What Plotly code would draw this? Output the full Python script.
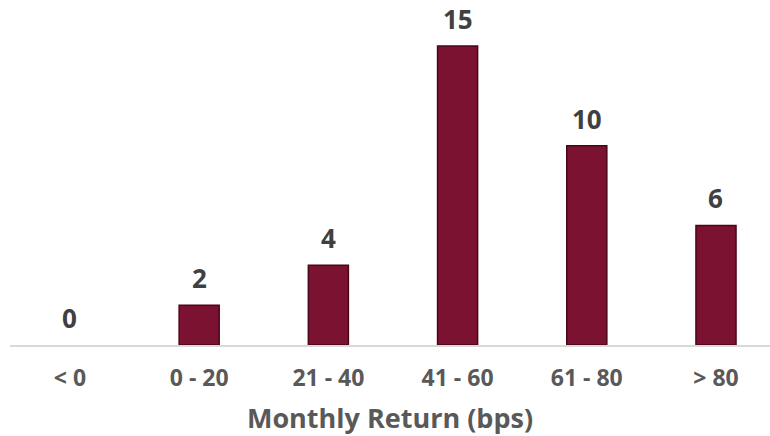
import plotly.graph_objects as go

categories = ["< 0", "0 - 20", "21 - 40", "41 - 60", "61 - 80", "> 80"]
counts = [0, 2, 4, 15, 10, 6]
x_title = "Monthly Return (bps)"

FONT = "Open Sans, Lato, sans-serif"

fig = go.Figure()
fig.add_trace(go.Bar(
    x=list(range(len(categories))),
    y=counts,
    width=0.31,
    marker=dict(color="#7c1232",
                line=dict(color="#4a0618", width=[0 if v == 0 else 1.5 for v in counts])),
    hoverinfo="skip",
))

for i, v in enumerate(counts):
    fig.add_annotation(
        x=i, y=v, text=str(v), showarrow=False,
        yanchor="bottom", yshift=7,
        font=dict(family=FONT, size=26, color="#404040", weight="bold"),
    )

fig.update_layout(
    width=770, height=436,
    margin=dict(l=10, r=0, t=0, b=91),
    paper_bgcolor="white",
    plot_bgcolor="white",
    showlegend=False,
    xaxis=dict(
        range=[-0.464, 5.418],
        tickmode="array",
        tickvals=list(range(len(categories))),
        ticktext=categories,
        showline=True, linecolor="#d9d9d9", linewidth=2,
        ticks="", showgrid=False, zeroline=False,
        tickfont=dict(family=FONT, size=23, color="#595959", weight="bold"),
        ticklabelstandoff=11,
        title=dict(text=x_title, standoff=22,
                   font=dict(family=FONT, size=27, color="#595959", weight="bold")),
    ),
    yaxis=dict(range=[0, 17.31], visible=False, showgrid=False, zeroline=False),
)

fig.write_html("out.html")
